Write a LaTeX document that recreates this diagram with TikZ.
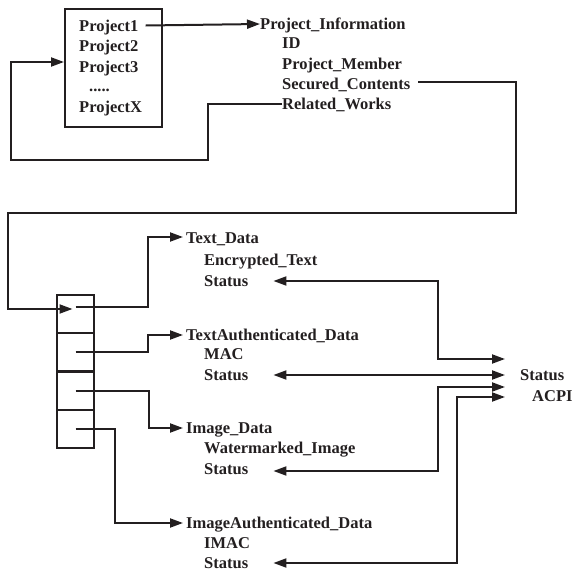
\documentclass[tikz,border=0pt]{standalone}
\usepackage{fontspec}
\setmainfont{Liberation Serif}
\usepackage{xcolor}
\definecolor{ink}{HTML}{231F20}
\usepackage{tikz}
\usetikzlibrary{positioning, arrows.meta}
\tikzset{
    lbl/.style = {anchor=west, inner sep=0pt, text height=11pt, text depth=0pt,
                  font=\bfseries\fontsize{16.5}{18}\selectfont, color=ink},
    frame/.style = {draw=ink, line width=2pt, minimum width=97pt, minimum height=118pt},
    cell/.style = {draw=ink, line width=2pt, minimum width=37pt, minimum height=38pt},
    link/.style = {line width=2pt, color=ink},
    arrow/.style = {-{Triangle[length=13pt, width=9pt]}, line width=2pt, color=ink},
    biarrow/.style = {{Triangle[length=13pt, width=9pt]}-{Triangle[length=13pt, width=9pt]},
                      line width=2pt, color=ink},
}
\begin{document}
\begin{tikzpicture}[x=1pt, y=-1pt]
        \useasboundingbox (0,0) rectangle (573,571);
        % project list
        \node[frame] (projbox) at (113.5,68) {};
        \node[lbl] (p1) at (79,25.5)  {Project1};
        \node[lbl] (p2) at (79,46)    {Project2};
        \node[lbl] (p3) at (79,66.5)  {Project3};
        \node[lbl] (pdots) at (89,86) {.....};
        \node[lbl] (px) at (79,107)   {ProjectX};
        % project information
        \node[lbl] (pinfo) at (260,24) {Project\_Information};
        \node[lbl] (pid) at (282,43)   {ID};
        \node[lbl] (pm) at (282,64)    {Project\_Member};
        \node[lbl] (sc) at (282,84)    {Secured\_Contents};
        \node[lbl] (rw) at (282,104)   {Related\_Works};
        % secured contents table
        \node[cell] (cell1) at (75.5,314)   {};
        \node[cell] (cell2) at (75.5,352)   {};
        \node[cell] (cell3) at (75.5,390.5) {};
        \node[cell] (cell4) at (75.5,429)   {};
        % data blocks
        \node[lbl] (td) at (186,238)   {Text\_Data};
        \node[lbl] (et) at (204,260)   {Encrypted\_Text};
        \node[lbl] (s1) at (204,281)   {Status};
        \node[lbl] (tad) at (186,335)  {TextAuthenticated\_Data};
        \node[lbl] (mac) at (204,354)  {MAC};
        \node[lbl] (s2) at (204,375)   {Status};
        \node[lbl] (imd) at (186,428)  {Image\_Data};
        \node[lbl] (wi) at (204,448)   {Watermarked\_Image};
        \node[lbl] (s3) at (204,469)   {Status};
        \node[lbl] (iad) at (186,523)  {ImageAuthenticated\_Data};
        \node[lbl] (imac) at (204,543) {IMAC};
        \node[lbl] (s4) at (204,563)   {Status};
        % status block
        \node[lbl] (st) at (520,375)   {Status};
        \node[lbl] (acpi) at (532,396) {ACPI};
        % connectors
        \draw[arrow] ([xshift=7pt]p1.east) -- (pinfo.west);
        \draw[arrow] (rw.west) -| (208,160) -| (11,62) -- ([yshift=6pt]projbox.west);
        \draw[arrow] ([xshift=8pt,yshift=2pt]sc.east) -| (516,213) -| (8,309)
                     -- ([xshift=-3pt,yshift=5pt]cell1.center);
        \draw[arrow] ([yshift=7pt]cell1.center) -| ([xshift=-38pt,yshift=1pt]td.west)
                     -- ([xshift=-3pt,yshift=1pt]td.west);
        \draw[arrow] (cell2.center) -| ([xshift=-38pt]tad.west) -- ([xshift=-3pt]tad.west);
        \draw[arrow] (cell3.center) -| ([xshift=-37pt]imd.west) -- ([xshift=-3pt]imd.west);
        \draw[arrow] (cell4.center) -| ([xshift=-71pt]iad.west) -- ([xshift=-3pt]iad.west);
        \draw[biarrow] ([xshift=25pt]s1.east) -| (438,359) -- ([xshift=-15pt,yshift=16pt]st.west);
        \draw[biarrow] ([xshift=25pt]s2.east) -- ([xshift=-15pt]st.west);
        \draw[biarrow] ([xshift=25pt,yshift=-2pt]s3.east) -| (438,387) -- ([xshift=-15pt,yshift=-12pt]st.west);
        \draw[biarrow] ([xshift=25pt]s4.east) -| (457,397) -- ([xshift=-15pt,yshift=-22pt]st.west);
      \end{tikzpicture}
\end{document}
